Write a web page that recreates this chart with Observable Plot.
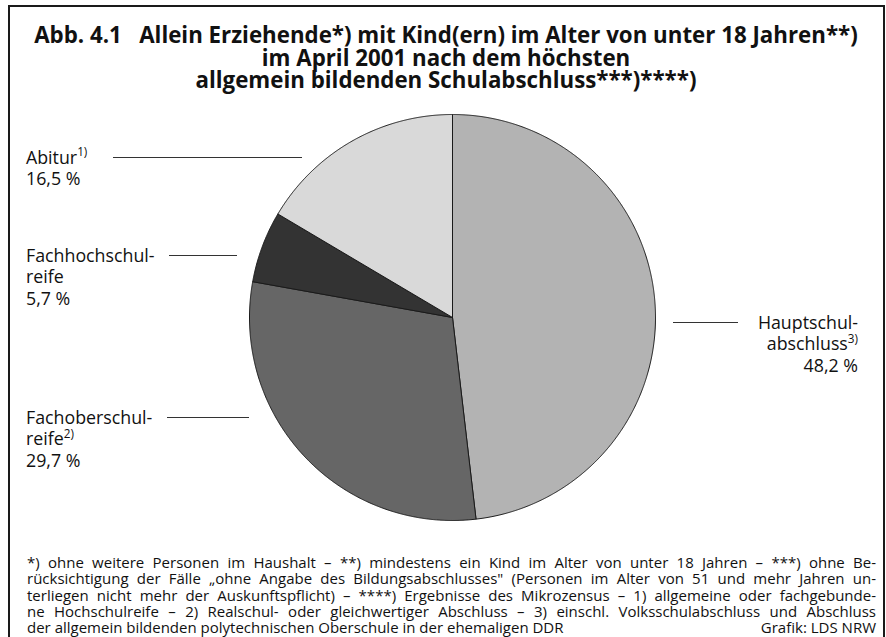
<!DOCTYPE html>
<html>
<head>
<meta charset="utf-8">
<script src="https://cdn.jsdelivr.net/npm/d3@7"></script>
<script src="https://cdn.jsdelivr.net/npm/@observablehq/plot@0.6"></script>
<style>
  html, body { margin: 0; padding: 0; background: #fff; }
  #wrap { position: relative; width: 886px; height: 637px; overflow: hidden; background: #fff; font-family: 'Open Sans', 'Noto Sans', sans-serif; color: #111; }
  #frame { position: absolute; left: 8px; top: 5px; width: 877px; height: 700px; border: 2px solid #1a1a1a; box-sizing: border-box; pointer-events: none; }
  #wrap svg { position: absolute; left: 0; top: 0; }
  #foot { position: absolute; left: 27px; top: 554px; width: 849px; font-size: 15px; line-height: 16.3px; }
  #foot .ln { text-align: justify; text-align-last: justify; white-space: normal; }
  #foot .last { display: flex; justify-content: space-between; }
</style>
</head>
<body>
<div id="wrap"><div id="frame"></div><div id="foot"></div></div>
<script>
// ---------- data ----------
const categories = ["Hauptschulabschluss", "Fachoberschulreife", "Fachhochschulreife", "Abitur"];
const shares = [48.2, 29.7, 5.7, 16.5];
const labelLines = [["Hauptschul-", "abschluss"], ["Fachoberschul-", "reife"], ["Fachhochschul-", "reife"], ["Abitur"]];
const labelNotes = ["3)", "2)", "", "1)"];
const valueLabels = ["48,2 %", "29,7 %", "5,7 %", "16,5 %"];
const fills = ["#b3b3b3", "#666666", "#333333", "#d9d9d9"];

const titleLines = [
  "Abb. 4.1\u00a0\u00a0\u00a0Allein Erziehende*) mit Kind(ern) im Alter von unter 18 Jahren**)",
  "im April 2001 nach dem höchsten",
  "allgemein bildenden Schulabschluss***)****)"
];
const footLines = [
  "*) ohne weitere Personen im Haushalt – **) mindestens ein Kind im Alter von unter 18 Jahren – ***) ohne Be-",
  "rücksichtigung der Fälle „ohne Angabe des Bildungsabschlusses\" (Personen im Alter von 51 und mehr Jahren un-",
  "terliegen nicht mehr der Auskunftspflicht) – ****) Ergebnisse des Mikrozensus – 1) allgemeine oder fachgebunde-",
  "ne Hochschulreife – 2) Realschul- oder gleichwertiger Abschluss – 3) einschl. Volksschulabschluss und Abschluss",
  "der allgemein bildenden polytechnischen Oberschule in der ehemaligen DDR"
];
const sourceText = "Grafik: LDS NRW";

// ---------- layout ----------
const W = 886, H = 637;
const cx = 452, cy = 317, R = 203;
const FONT = "'Open Sans', 'Noto Sans', sans-serif";
const labelLayout = [
  {ly: 322, lx1: 673, lx2: 738, tx: 858, anchor: "end"},
  {ly: 417, lx1: 167, lx2: 249, tx: 26, anchor: "start"},
  {ly: 255, lx1: 169, lx2: 237, tx: 26, anchor: "start"},
  {ly: 157, lx1: 113, lx2: 302, tx: 26, anchor: "start"}
];

const data = categories.map((c, i) => ({cat: c, share: shares[i], fill: fills[i], ...labelLayout[i]}));
const arcs = d3.pie().sort(null).value(d => d.share)(data);

const sliceMarks = arcs.map(a => {
  const pts = [{x: cx, y: cy}];
  const n = Math.max(2, Math.ceil((a.endAngle - a.startAngle) / 0.005));
  for (let k = 0; k <= n; k++) {
    const t = a.startAngle + (a.endAngle - a.startAngle) * k / n;
    pts.push({x: cx + R * Math.sin(t), y: cy - R * Math.cos(t)});
  }
  pts.push({x: cx, y: cy});
  return Plot.line(pts, {x: "x", y: "y", fill: a.data.fill, stroke: "#1a1a1a", strokeWidth: 1, strokeLinejoin: "round"});
});

const chart = Plot.plot({
  width: W, height: H,
  margin: 0,
  x: {domain: [0, W], range: [0, W], axis: null},
  y: {domain: [0, H], range: [0, H], axis: null},
  style: {background: "transparent"},
  marks: [
    ...sliceMarks,
    Plot.ruleY(data, {y: "ly", x1: "lx1", x2: "lx2", stroke: "#333", strokeWidth: 1})
  ]
});
document.getElementById("wrap").insertBefore(chart, document.getElementById("foot"));

// ---------- text ----------
const svg = d3.select(chart);
const g = svg.append("g").attr("font-family", FONT).attr("fill", "#111");

// title
const titleSize = 22.3;
const titleBase = [43, 65.5, 88];
titleLines.forEach((s, i) => {
  g.append("text").attr("x", 446).attr("y", titleBase[i]).attr("text-anchor", "middle")
    .attr("font-size", titleSize).attr("font-weight", 700).text(s);
});

// labels
const labelSize = 17.8;
const lh = 21.8;
data.forEach((d, i) => {
  const lines = labelLines[i];
  const base = d.ly + 6.5;
  lines.forEach((s, j) => {
    const t = g.append("text").attr("x", d.tx).attr("y", base + j * lh)
      .attr("text-anchor", d.anchor).attr("font-size", labelSize);
    t.append("tspan").text(s);
    if (j === lines.length - 1 && labelNotes[i]) {
      t.append("tspan").attr("font-size", labelSize * 0.66).attr("dy", -labelSize * 0.42).text(labelNotes[i]);
    }
  });
  g.append("text").attr("x", d.tx).attr("y", base + lines.length * lh)
    .attr("text-anchor", d.anchor).attr("font-size", labelSize).text(valueLabels[i]);
});

// footnotes (HTML, justified)
const foot = d3.select("#foot");
footLines.forEach((s, i) => {
  if (i < footLines.length - 1) {
    foot.append("div").attr("class", "ln").text(s);
  } else {
    const row = foot.append("div").attr("class", "last");
    row.append("span").text(s);
    row.append("span").text(sourceText);
  }
});
</script>
</body>
</html>
